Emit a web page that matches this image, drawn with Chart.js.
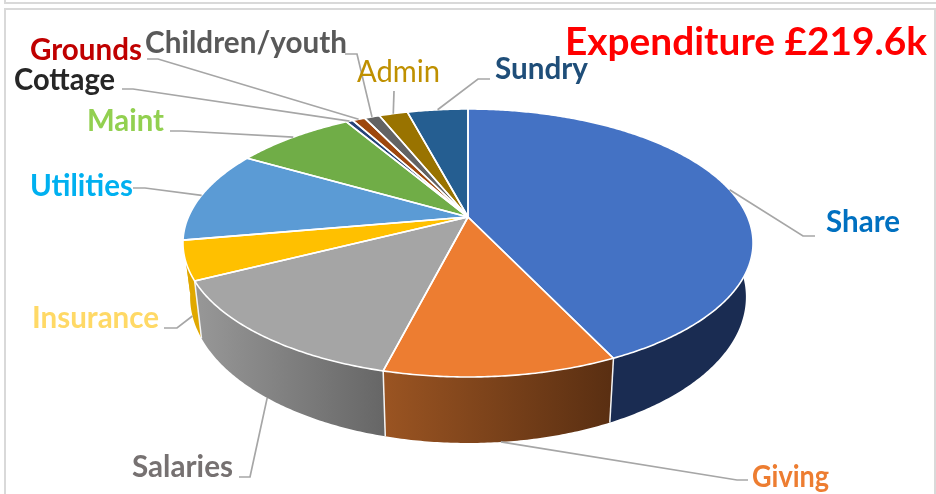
<!DOCTYPE html>
<html>
<head>
<meta charset="utf-8">
<title>Expenditure</title>
<script src="https://cdn.jsdelivr.net/npm/chart.js@4"></script>
<style>
	html, body { margin: 0; background: #fff; overflow: hidden; }
	#strip { position: absolute; left: 4px; top: -4px; width: 930px; height: 4px; border: 2px solid #d9d9d9; }
	#frame { position: absolute; left: 4px; top: 8px; width: 928px; height: 500px; border: 2px solid #d9d9d9; }
	canvas { position: absolute; left: 0; top: 0; }
</style>
</head>
<body>
<div id="strip"></div>
<div id="frame"></div>
<canvas id="grafico" width="936" height="494"></canvas>
<script>
const categorias = ['Share', 'Giving', 'Salaries', 'Insurance', 'Utilities', 'Maint', 'Cottage', 'Grounds', 'Children/youth', 'Admin', 'Sundry'];
const valores = [94.3, 24.2, 29.8, 10.3, 24.4, 18.0, 1.0, 1.9, 2.3, 4.3, 9.1];
const titulo = 'Expenditure £219.6k';

const coresTopo = ['#4472c4', '#ed7d31', '#a5a5a5', '#ffc000', '#5b9bd5', '#70ad47', '#264478', '#9e480e', '#636363', '#997300', '#255e91'];
// the sliver of wall under Utilities shows as part of the Insurance edge
const coresLado = [['#1a2c52', '#1a2c52'], ['#9a5422', '#5a2f12'], ['#969696', '#666666'], ['#e0a800', '#e0a800'], ['#e0a800', '#e0a800']];
const coresTexto = ['#0070c0', '#ed7d31', '#767171', '#ffd966', '#00b0f0', '#92d050', '#262626', '#c00000', '#595959', '#bf9000', '#1f4e79'];

// label box: left, centre y, width
const caixas = [[826, 222, 74], [752, 477, 77], [132, 467, 101], [32, 318, 127], [30, 186, 103], [87, 121, 77], [14, 80, 101], [30, 50, 112], [145, 43, 202], [357, 72, 83], [495, 69, 93]];
// leader line, from label side towards the slice
const guias = [[[815, 236], [803, 236]], [[748, 480], [737, 480]], [[239, 477], [250, 477]], [[164, 328], [177, 328]], [[133, 188], [145, 188]], [[170, 131], [182, 131]], [[122, 89], [133, 89]], [[147, 59], [158, 59]], [[345, 54], [357, 54]], [[394, 91]], [[490, 79], [478, 79]]];

// perspective of the tilted disc
const K = -0.194, ESC_X = 1.2885, ESC_Y = 0.5942, FUNDO_X = 0.975, FUNDO_Y = 1.09, QUEDA = 0.2378;

function projetar(el, a, fundo) {
	const w = 1 + K * Math.sin(a);
	const dx = el.outerRadius * ESC_X * Math.cos(a) / w;
	const dy = el.outerRadius * ESC_Y * Math.sin(a) / w;
	if (fundo) {
		return { x: el.x + dx * FUNDO_X, y: el.y + el.outerRadius * QUEDA + dy * FUNDO_Y };
	}
	return { x: el.x + dx, y: el.y + dy };
}

function tracarBorda(ctx, el, ini, fim, fundo) {
	const passos = Math.max(2, Math.ceil(Math.abs(fim - ini) / 0.01));
	for (let i = 0; i <= passos; i++) {
		const p = projetar(el, ini + (fim - ini) * i / passos, fundo);
		ctx.lineTo(p.x, p.y);
	}
}

const pizza3d = {
	id: 'pizza3d',
	// the slices are drawn here from the arc elements, tilted and with a wall
	beforeDatasetDraw(chart, args) {
		const ctx = chart.ctx;
		const arcos = args.meta.data;
		ctx.save();
		ctx.lineJoin = 'round';

		arcos.forEach((el, i) => {
			const ini = Math.max(el.startAngle, 0);
			const fim = Math.min(el.endAngle, Math.PI);
			if (fim <= ini) return;
			const cor = coresLado[i];
			const a = projetar(el, fim, true);
			const b = projetar(el, ini, true);
			const grad = ctx.createLinearGradient(a.x, 0, b.x, 0);
			grad.addColorStop(0, cor[0]);
			grad.addColorStop(1, cor[1]);
			ctx.beginPath();
			tracarBorda(ctx, el, ini, fim, false);
			tracarBorda(ctx, el, fim, ini, true);
			ctx.closePath();
			ctx.fillStyle = grad;
			ctx.fill();
		});

		ctx.strokeStyle = '#f4f4f4';
		ctx.lineWidth = 1.5;
		arcos.forEach(el => {
			if (el.endAngle <= 0 || el.endAngle >= 2.8) return;
			const t = projetar(el, el.endAngle, false);
			const p = projetar(el, el.endAngle, true);
			ctx.beginPath();
			ctx.moveTo(t.x, t.y);
			ctx.lineTo(p.x, p.y);
			ctx.stroke();
		});

		arcos.forEach((el, i) => {
			ctx.beginPath();
			ctx.moveTo(el.x, el.y);
			tracarBorda(ctx, el, el.startAngle, el.endAngle, false);
			ctx.closePath();
			ctx.fillStyle = coresTopo[i];
			ctx.fill();
		});
		ctx.strokeStyle = '#ffffff';
		ctx.lineWidth = 1.6;
		arcos.forEach(el => {
			ctx.beginPath();
			ctx.moveTo(el.x, el.y);
			tracarBorda(ctx, el, el.startAngle, el.endAngle, false);
			ctx.closePath();
			ctx.stroke();
		});
		ctx.restore();
		return false;
	},
	afterDraw(chart) {
		const ctx = chart.ctx;
		const arcos = chart.getDatasetMeta(0).data;
		ctx.save();

		ctx.strokeStyle = '#a6a6a6';
		ctx.lineWidth = 1.7;
		arcos.forEach((el, i) => {
			const meio = (el.startAngle + el.endAngle) / 2;
			const p = projetar(el, meio, Math.sin(meio) > 0.3);
			ctx.beginPath();
			guias[i].forEach(g => ctx.lineTo(g[0], g[1]));
			ctx.lineTo(p.x, p.y);
			ctx.stroke();
		});

		ctx.textAlign = 'left';
		ctx.textBaseline = 'middle';
		categorias.forEach((nome, i) => {
			ctx.font = (nome == 'Admin' ? '' : 'bold ') + '30px Lato';
			ctx.fillStyle = coresTexto[i];
			ctx.fillText(nome, caixas[i][0], caixas[i][1], caixas[i][2]);
		});

		ctx.font = 'bold 39px Lato';
		ctx.fillStyle = '#ff0000';
		ctx.fillText(titulo, 565, 42, 362);
		ctx.restore();
	}
};

function gerarGrafico() {
	const ctx = document.getElementById('grafico').getContext('2d');
	return new Chart(ctx, {
		type: 'pie',
		data: {
			labels: categorias,
			datasets: [{
				data: valores,
				backgroundColor: coresTopo,
				borderWidth: 0
			}]
		},
		options: {
			responsive: false,
			animation: false,
			layout: { padding: { bottom: 60 } },
			plugins: {
				legend: { display: false },
				tooltip: { enabled: false }
			}
		},
		plugins: [pizza3d]
	});
}

gerarGrafico();
</script>
</body>
</html>
